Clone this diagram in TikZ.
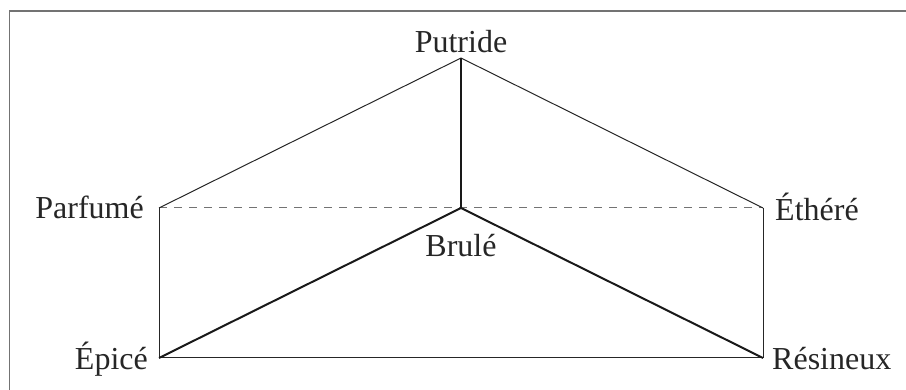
\documentclass[tikz,border=0pt]{standalone}
\usepackage{fontspec}
\setmainfont{Liberation Serif}
\begin{document}
\begin{tikzpicture}[x=1pt,y=-1pt,
  lbl/.style={inner sep=0pt,font=\fontsize{32}{38}\selectfont,text=black!85},
  thinline/.style={line width=1pt,draw=black!85},
  thickline/.style={line width=2pt,draw=black!90},
  dashline/.style={line width=1pt,draw=black!55,dash pattern=on 8pt off 7pt},
  framebox/.style={line width=1.6pt,draw=black!55}]
\useasboundingbox (0,0) rectangle (906,390);
\draw[framebox] (9.5,11) rectangle (920,400);
% points
\coordinate (P) at (461,58);
\coordinate (Pa) at (159,208);
\coordinate (Et) at (763,208);
\coordinate (B) at (461,208);
\coordinate (Ep) at (159,358);
\coordinate (R) at (763,358);
% labels
\node[lbl,anchor=base] (tP) at (461,53) {Putride};
\node[lbl,anchor=base east] (tPa) at (144,219) {Parfumé};
\node[lbl,anchor=base west] (tEt) at (775,221) {Éthéré};
\node[lbl,anchor=base] (tB) at (461,257) {Brulé};
\node[lbl,anchor=base east] (tEp) at (148,370) {Épicé};
\node[lbl,anchor=base west] (tR) at (772,370) {Résineux};
% edges
\draw[dashline] (Pa) -- (Et);
\draw[thinline] (P) -- (Pa);
\draw[thinline] (P) -- (Et);
\draw[thinline] (Pa) -- (Ep);
\draw[thinline] (Et) -- (R);
\draw[thinline] (Ep) -- (R);
\draw[thickline] (P) -- (B);
\draw[thickline] (B) -- (Ep);
\draw[thickline] (B) -- (R);
\end{tikzpicture}
\end{document}
